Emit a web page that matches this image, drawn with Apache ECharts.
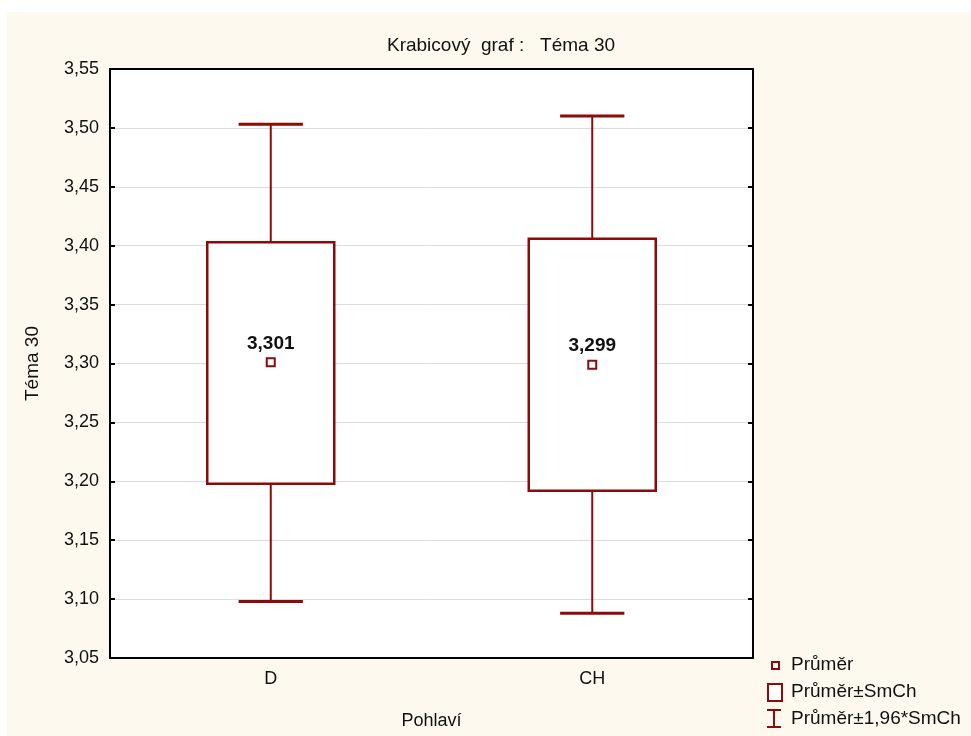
<!DOCTYPE html>
<html>
<head>
<meta charset="utf-8">
<title>Krabicový graf : Téma 30</title>
<script src="https://cdn.jsdelivr.net/npm/echarts@6/dist/echarts.min.js"></script>
<style>
  html, body { margin: 0; padding: 0; background: #ffffff; }
  #chart { position: absolute; left: 7px; top: 12px; width: 964px; height: 724px; background: #fdf9ef; }
</style>
</head>
<body>
<div id="chart"></div>
<script>
// kategorie a hodnoty
const categories = ['D', 'CH'];
const means = [3.301, 3.299];
const seLow = [3.198, 3.192];     // průměr - SmCh
const seHigh = [3.403, 3.406];    // průměr + SmCh
const ciLow = [3.098, 3.088];     // průměr - 1,96*SmCh
const ciHigh = [3.503, 3.510];    // průměr + 1,96*SmCh
const yTicks = ['3,05', '3,10', '3,15', '3,20', '3,25', '3,30', '3,35', '3,40', '3,45', '3,50', '3,55'];

const dark = '#8c0a0a';
const font = 'Arial, "Liberation Sans", sans-serif';
const fs = 18;

const chart = echarts.init(document.getElementById('chart'));

const boxData = categories.map((c, i) => [i, ciLow[i], seLow[i], seHigh[i], ciHigh[i]]);
const meanData = categories.map((c, i) => [i, means[i]]);

const renderBox = function (params, api) {
  const x = api.value(0);
  const lo = api.coord([x, api.value(1)]);
  const q1 = api.coord([x, api.value(2)]);
  const q3 = api.coord([x, api.value(3)]);
  const hi = api.coord([x, api.value(4)]);
  const band = api.size([1, 0])[0];
  const bw = band * 0.395;
  const cw = band * 0.2;
  const cx = hi[0];
  const line = (x1, y1, x2, y2, w) => ({
    type: 'line',
    shape: { x1: x1, y1: y1, x2: x2, y2: y2 },
    style: { stroke: dark, lineWidth: w }
  });
  return {
    type: 'group',
    children: [
      line(cx, hi[1], cx, q3[1], 2),
      line(cx, q1[1], cx, lo[1], 2),
      line(cx - cw / 2, hi[1], cx + cw / 2, hi[1], 3),
      line(cx - cw / 2, lo[1], cx + cw / 2, lo[1], 3),
      {
        type: 'rect',
        shape: { x: cx - bw / 2, y: q3[1], width: bw, height: q1[1] - q3[1] },
        style: { fill: '#ffffff', stroke: dark, lineWidth: 2.5 }
      }
    ]
  };
};

const fmtY = v => yTicks[Math.round((v - 3.05) / 0.05)] || '';

const option = {
  backgroundColor: '#fdf9ef',
  animation: false,
  title: {
    text: 'Krabicový  graf :   Téma 30',
    left: 489,
    top: 19,
    textAlign: 'center',
    textStyle: { fontFamily: font, fontSize: 19, fontWeight: 'normal', color: '#111' }
  },
  grid: { left: 103, top: 57, width: 643, height: 589, backgroundColor: '#ffffff', show: true, borderWidth: 0 },
  xAxis: [
    {
      type: 'category',
      data: categories,
      name: 'Pohlaví',
      nameLocation: 'middle',
      nameGap: 54,
      nameTextStyle: { fontFamily: font, fontSize: fs, color: '#111' },
      axisLine: { lineStyle: { color: '#000', width: 2 } },
      axisTick: { inside: true, alignWithLabel: true, length: 5, lineStyle: { color: '#000', width: 2 } },
      axisLabel: { fontFamily: font, fontSize: fs, color: '#111', margin: 12 },
      splitLine: { show: false }
    },
    {
      type: 'category',
      data: categories,
      position: 'top',
      axisLine: { lineStyle: { color: '#000', width: 2 } },
      axisTick: { inside: true, alignWithLabel: true, length: 5, lineStyle: { color: '#000', width: 2 } },
      axisLabel: { show: false }
    }
  ],
  yAxis: [
    {
      type: 'value',
      min: 3.05,
      max: 3.55,
      interval: 0.05,
      name: 'Téma 30',
      nameLocation: 'middle',
      nameGap: 68,
      nameTextStyle: { fontFamily: font, fontSize: 19, color: '#111' },
      axisLine: { show: true, lineStyle: { color: '#000', width: 2 } },
      axisTick: { show: true, inside: true, length: 5, lineStyle: { color: '#000', width: 2 } },
      axisLabel: { fontFamily: font, fontSize: fs, color: '#111', margin: 11, formatter: fmtY },
      splitLine: { show: true, lineStyle: { color: '#dcdcdc', width: 1 } }
    },
    {
      type: 'value',
      min: 3.05,
      max: 3.55,
      interval: 0.05,
      position: 'right',
      axisLine: { show: true, lineStyle: { color: '#000', width: 2 } },
      axisTick: { show: true, inside: true, length: 5, lineStyle: { color: '#000', width: 2 } },
      axisLabel: { show: false },
      splitLine: { show: false }
    }
  ],
  series: [
    {
      name: 'Průměr±SmCh',
      type: 'custom',
      renderItem: renderBox,
      encode: { x: 0, y: [1, 2, 3, 4] },
      data: boxData,
      z: 3
    },
    {
      name: 'Průměr',
      type: 'scatter',
      symbol: 'rect',
      symbolSize: 8,
      itemStyle: { color: '#ffffff', borderColor: dark, borderWidth: 2, opacity: 1 },
      label: {
        show: true,
        position: 'top',
        distance: 4,
        fontFamily: font,
        fontSize: 19,
        fontWeight: 'bold',
        color: '#111',
        formatter: p => p.value[1].toFixed(3).replace('.', ',')
      },
      data: meanData,
      z: 5
    }
  ],
  graphic: [
    // legenda
    { type: 'rect', left: 764, top: 649, shape: { width: 7, height: 7 }, style: { fill: '#fff', stroke: dark, lineWidth: 2 } },
    { type: 'text', left: 784, top: 643, style: { text: 'Průměr', font: '19px ' + font, fill: '#111' } },
    { type: 'rect', left: 760, top: 671, shape: { width: 14, height: 17 }, style: { fill: '#fff', stroke: dark, lineWidth: 2 } },
    { type: 'text', left: 784, top: 670, style: { text: 'Průměr±SmCh', font: '19px ' + font, fill: '#111' } },
    { type: 'line', shape: { x1: 760, y1: 698, x2: 774, y2: 698 }, style: { stroke: dark, lineWidth: 2 } },
    { type: 'line', shape: { x1: 767, y1: 698, x2: 767, y2: 715 }, style: { stroke: dark, lineWidth: 2 } },
    { type: 'line', shape: { x1: 760, y1: 715, x2: 774, y2: 715 }, style: { stroke: dark, lineWidth: 2 } },
    { type: 'text', left: 784, top: 697, style: { text: 'Průměr±1,96*SmCh', font: '19px ' + font, fill: '#111' } }
  ]
};

chart.setOption(option);
window.addEventListener('resize', function () {
  chart && chart.resize();
});
</script>
</body>
</html>
